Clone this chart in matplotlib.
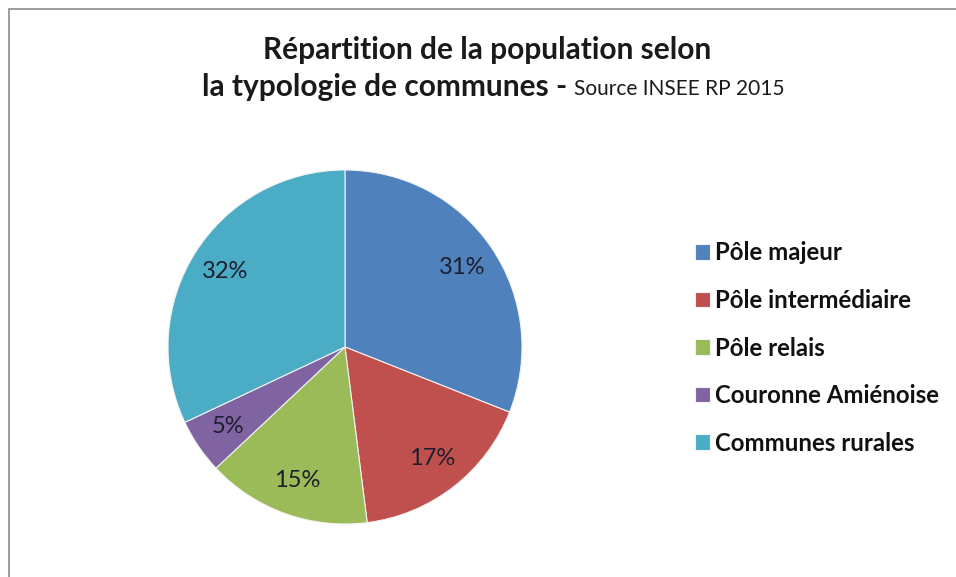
import matplotlib
matplotlib.use("Agg")
import matplotlib.pyplot as plt
from matplotlib.patches import Rectangle

# data
categories = ["Pôle majeur", "Pôle intermédiaire", "Pôle relais",
              "Couronne Amiénoise", "Communes rurales"]
shares = [31, 17, 15, 5, 32]
colors = ["#4F81BD", "#C0504D", "#9BBB59", "#8064A2", "#4BACC6"]

title_line1 = "Répartition de la population selon"
title_line2 = "la typologie de communes - "
source_txt = "Source INSEE RP 2015"

plt.rcParams["font.family"] = ["Lato", "DejaVu Sans"]

W, H = 956, 577
fig = plt.figure(figsize=(W / 100, H / 100), dpi=100)
fig.patch.set_facecolor("white")

# chart border (right/bottom run off the picture)
fig.patches.append(Rectangle((9 / W, -0.05), 1.2, (H - 9) / H + 0.05,
                             transform=fig.transFigure, fill=False,
                             edgecolor="#8c8c8c", linewidth=1.2))

# pie
cx, cy, r = 345, 347, 177
ax = fig.add_axes([(cx - r) / W, (H - cy - r) / H, 2 * r / W, 2 * r / H])
wedges, _, autotexts = ax.pie(
    shares, colors=colors, startangle=90, counterclock=False,
    autopct=lambda p: f"{p:.0f}%", pctdistance=0.8, radius=1,
    wedgeprops=dict(edgecolor="#f2f2f2", linewidth=0.8),
    textprops=dict(fontsize=17, color="#1e1e2e"))
ax.set_xlim(-1, 1)
ax.set_ylim(-1, 1)
ax.set_aspect("equal")
ax.axis("off")

# legend
ax.legend(wedges, categories, loc="center left",
          bbox_to_anchor=(695 / W, 1 - 348 / H), bbox_transform=fig.transFigure,
          frameon=False, prop=dict(size=17.3, weight="bold"),
          handlelength=0.62, handleheight=0.62,
          handletextpad=0.22, labelspacing=1.02, borderpad=0, borderaxespad=0,
          labelcolor="#111111")

# title
fig.text(487 / W, 1 - 50 / H, title_line1, ha="center", va="center",
         fontsize=21.5, fontweight="bold", color="#1a1a1a")
t2 = fig.text(202 / W, 1 - 87 / H, title_line2, ha="left", va="center",
              fontsize=21.5, fontweight="bold", color="#1a1a1a")
renderer = fig.canvas.get_renderer()
bb = t2.get_window_extent(renderer)
fig.text(bb.x1 / W, 1 - 89 / H, source_txt, ha="left", va="center",
         fontsize=15, color="#1a1a1a")

fig.savefig("out.png", dpi=100)
